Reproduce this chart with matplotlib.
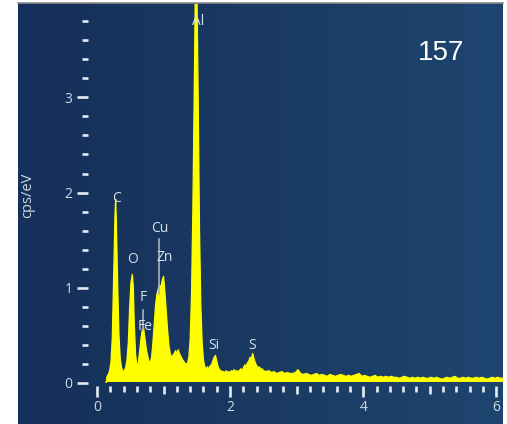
import numpy as np
import matplotlib.pyplot as plt
from matplotlib.ticker import MultipleLocator, FixedLocator
from matplotlib.colors import LinearSegmentedColormap

plt.rcParams['font.family'] = ['Open Sans', 'DejaVu Sans']

# EDS spectrum, energy in keV and intensity in cps/eV
energy = [
    0.14, 0.15, 0.17, 0.19, 0.21, 0.23, 0.25, 0.27, 0.28, 0.29,
    0.31, 0.33, 0.35, 0.37, 0.39, 0.41, 0.43, 0.45, 0.47, 0.49,
    0.51, 0.53, 0.545, 0.56, 0.58, 0.60, 0.62, 0.64, 0.66, 0.68,
    0.70, 0.72, 0.74, 0.76, 0.78, 0.80, 0.82, 0.84, 0.86, 0.88,
    0.90, 0.92, 0.94, 0.96, 0.98, 1.00, 1.02, 1.04, 1.06, 1.08,
    1.10, 1.12, 1.14, 1.16, 1.18, 1.20, 1.22, 1.24, 1.26, 1.28,
    1.30, 1.32, 1.34, 1.36, 1.38, 1.40, 1.42, 1.44, 1.46, 1.48,
    1.49, 1.50, 1.52, 1.54, 1.56, 1.58, 1.60, 1.62, 1.64, 1.66,
    1.68, 1.70, 1.72, 1.74, 1.76, 1.78, 1.80, 1.82, 1.84, 1.86,
    1.88, 1.90, 1.92, 1.94, 1.96, 1.98, 2.00, 2.02, 2.04, 2.06,
    2.08, 2.10, 2.12, 2.14, 2.16, 2.18, 2.20, 2.22, 2.24, 2.26,
    2.28, 2.30, 2.32, 2.34, 2.36, 2.38, 2.40, 2.42, 2.44, 2.46,
    2.48, 2.50, 2.54, 2.58, 2.62, 2.66, 2.70, 2.74, 2.78, 2.82,
    2.86, 2.90, 2.94, 2.98, 3.02, 3.06, 3.10, 3.14, 3.18, 3.22,
    3.26, 3.30, 3.34, 3.38, 3.42, 3.46, 3.50, 3.54, 3.58, 3.62,
    3.66, 3.70, 3.74, 3.78, 3.82, 3.86, 3.90, 3.94, 3.98, 4.02,
    4.06, 4.10, 4.14, 4.18, 4.22, 4.26, 4.30, 4.34, 4.38, 4.42,
    4.46, 4.50, 4.54, 4.58, 4.62, 4.66, 4.70, 4.74, 4.78, 4.82,
    4.86, 4.90, 4.94, 4.98, 5.02, 5.06, 5.10, 5.14, 5.18, 5.22,
    5.26, 5.30, 5.34, 5.38, 5.42, 5.46, 5.50, 5.54, 5.58, 5.62,
    5.66, 5.70, 5.74, 5.78, 5.82, 5.86, 5.90, 5.94, 5.98, 6.02,
    6.06, 6.10,
]
counts = [
    0.00, 0.07, 0.09, 0.13, 0.22, 0.48, 1.10, 1.75, 1.93, 1.72,
    1.05, 0.50, 0.25, 0.16, 0.12, 0.13, 0.16, 0.24, 0.42, 0.78,
    1.05, 1.14, 1.02, 0.62, 0.30, 0.18, 0.21, 0.33, 0.46, 0.56,
    0.58, 0.47, 0.36, 0.29, 0.23, 0.21, 0.27, 0.42, 0.62, 0.82,
    0.93, 0.99, 1.03, 1.00, 1.08, 1.12, 0.96, 0.76, 0.56, 0.40,
    0.31, 0.27, 0.29, 0.31, 0.34, 0.31, 0.35, 0.31, 0.28, 0.25,
    0.23, 0.21, 0.20, 0.21, 0.27, 0.46, 0.92, 1.80, 3.00, 4.30,
    4.50, 4.20, 3.00, 1.62, 0.82, 0.42, 0.24, 0.17, 0.15, 0.17,
    0.15, 0.18, 0.19, 0.23, 0.27, 0.29, 0.23, 0.17, 0.14, 0.13,
    0.12, 0.12, 0.11, 0.13, 0.11, 0.12, 0.11, 0.13, 0.12, 0.14,
    0.12, 0.13, 0.12, 0.13, 0.15, 0.13, 0.16, 0.19, 0.18, 0.21,
    0.23, 0.27, 0.26, 0.31, 0.25, 0.21, 0.18, 0.16, 0.17, 0.14,
    0.15, 0.13, 0.12, 0.13, 0.11, 0.12, 0.10, 0.11, 0.12, 0.10,
    0.11, 0.10, 0.10, 0.11, 0.14, 0.10, 0.09, 0.10, 0.09, 0.08,
    0.09, 0.10, 0.08, 0.09, 0.08, 0.07, 0.09, 0.08, 0.07, 0.08,
    0.09, 0.08, 0.07, 0.08, 0.07, 0.08, 0.09, 0.10, 0.07, 0.08,
    0.07, 0.06, 0.07, 0.08, 0.06, 0.07, 0.06, 0.07, 0.06, 0.07,
    0.06, 0.06, 0.05, 0.06, 0.07, 0.06, 0.05, 0.06, 0.05, 0.06,
    0.05, 0.06, 0.05, 0.05, 0.06, 0.05, 0.06, 0.05, 0.04, 0.05,
    0.06, 0.05, 0.06, 0.07, 0.05, 0.05, 0.06, 0.05, 0.06, 0.05,
    0.05, 0.06, 0.05, 0.06, 0.05, 0.04, 0.05, 0.06, 0.05, 0.06,
    0.05, 0.05,
]

# element labels and where they sit
elements = ['Al', 'C', 'O', 'Cu', 'Zn', 'F', 'Fe', 'Si', 'S']
label_x = [1.52, 0.30, 0.54, 0.95, 1.02, 0.69, 0.73, 1.76, 2.33]
label_y = [3.80, 1.94, 1.30, 1.62, 1.32, 0.90, 0.59, 0.39, 0.39]

# thin marker lines for overlapping lines (Cu/Zn and F/Fe)
marker_x = [0.93, 0.69]
marker_lo = [0.93, 0.56]
marker_hi = [1.51, 0.77]

fig = plt.figure(figsize=(5.07, 4.24), dpi=100)
fig.patch.set_facecolor('white')

# dark panel behind the spectrum, slightly lighter to the right
bg = fig.add_axes([18 / 507, 0, 485 / 507, 421 / 424], zorder=0)
bg_cmap = LinearSegmentedColormap.from_list('panel', ['#15305a', '#1a3a62', '#1e4570'])
bg.imshow(np.linspace(0, 1, 256)[None, :], aspect='auto', cmap=bg_cmap,
          extent=[0, 1, 0, 1])
bg.set_axis_off()
fig.add_artist(plt.Line2D([18 / 507, 503 / 507], [421 / 424, 421 / 424],
                          transform=fig.transFigure, color='#8a8a8a', lw=1.2))

ax = fig.add_axes([97 / 507, 41 / 424, 406 / 507, 379 / 424], zorder=1)
ax.patch.set_alpha(0)
ax.fill_between(energy, counts, 0.02, color='#ffff00', lw=0.9, edgecolor='#ffff00')
ax.axhline(0.02, xmin=0.15 / 6.1, color='#ffff00', lw=1.4)

for x, lo, hi in zip(marker_x, marker_lo, marker_hi):
    ax.plot([x, x], [lo, hi], color='#a8b4c0', lw=1.2, zorder=3)

for name, x, y in zip(elements, label_x, label_y):
    ax.text(x, y, name, color='#d8e0ea', fontsize=10, ha='center', va='center', zorder=4)

ax.set_xlim(0, 6.1)
ax.set_ylim(0, 3.98)

for side in ['top', 'right', 'left', 'bottom']:
    ax.spines[side].set_visible(False)
ax.spines['left'].set_position(('outward', 6.5))
ax.spines['bottom'].set_position(('outward', 2))

ax.xaxis.set_major_locator(MultipleLocator(2))
ax.xaxis.set_minor_locator(MultipleLocator(0.2))
ax.yaxis.set_major_locator(MultipleLocator(1))
ax.yaxis.set_minor_locator(FixedLocator(np.arange(0.2, 3.81, 0.2)))

tick_col = '#e6ebf2'
ax.tick_params(axis='both', which='major', colors=tick_col, labelcolor='#d0d8e2',
               labelsize=10, width=1.9, length=8)
ax.tick_params(axis='both', which='minor', colors=tick_col, width=1.9, length=4)
ax.tick_params(axis='x', which='major', pad=2)
ax.tick_params(axis='y', which='major', pad=3)

ax.set_ylabel('cps/eV', color='#d0d8e2', fontsize=10.5)
ax.yaxis.set_label_coords(-0.153, 0.496)

fig.text(441 / 507, 1 - 53 / 424, '157', color='white', fontsize=20,
         family='Liberation Sans', ha='center', va='center')

# odd keV ticks are a bit longer than the other minor ticks
fig.canvas.draw()
for tick in ax.xaxis.get_minor_ticks():
    loc = tick.get_loc()
    if loc is not None and abs(loc - round(loc)) < 1e-6:
        tick.tick1line.set_markersize(6)

fig.savefig('out.png', dpi=100, facecolor=fig.get_facecolor())
